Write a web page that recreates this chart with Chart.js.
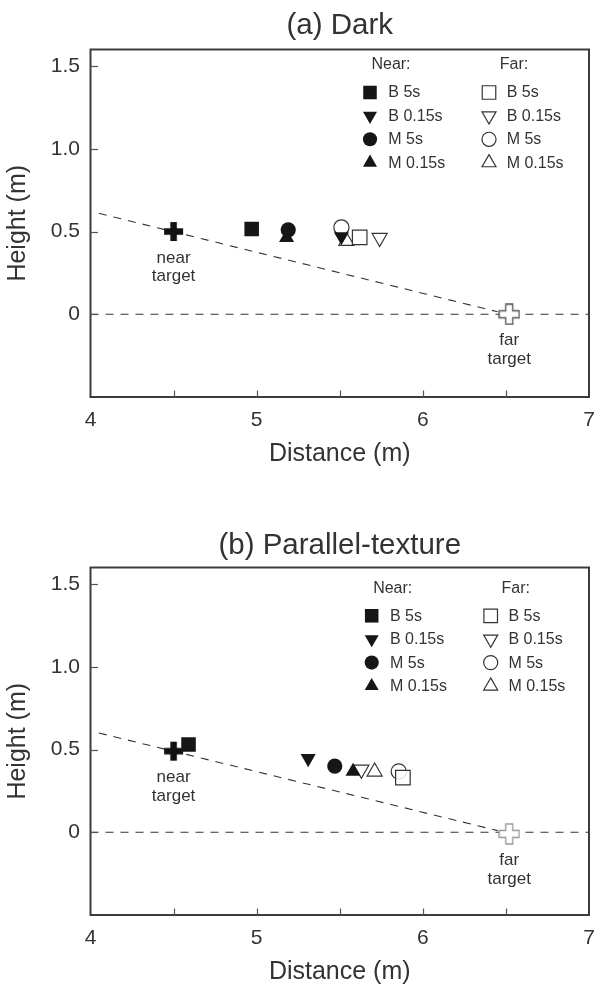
<!DOCTYPE html>
<html><head><meta charset="utf-8">
<script src="https://cdn.jsdelivr.net/npm/chart.js@4/dist/chart.umd.min.js"></script>
<style>
html,body{margin:0;padding:0;background:#fff;}
.wrap{position:absolute;left:0;width:601px;height:479px;}
</style></head><body>
<div class="wrap" style="top:0"><canvas id="c1" width="601" height="479"></canvas></div>
<div class="wrap" style="top:518px"><canvas id="c2" width="601" height="479"></canvas></div>
<script>
// ---------- data ----------
const xTickValues = [4, 4.5, 5, 5.5, 6, 6.5, 7];
const xTickLabels = ['4', '', '5', '', '6', '', '7'];
const yTickValues = [0, 0.5, 1.0, 1.5];
const yTickLabels = ['0', '0.5', '1.0', '1.5'];
const seriesNames = ['B 5s', 'B 0.15s', 'M 5s', 'M 0.15s'];
const groupNames = ['Near:', 'Far:'];
const targetNames = [['near', 'target'], ['far', 'target']];

// Panel (a) Dark  -- order: B 5s, B 0.15s, M 5s, M 0.15s ; each [distance, height]
const darkNear = [[4.97, 0.515], [5.51, 0.47], [5.19, 0.51], [5.18, 0.463]];
const darkFar = [[5.62, 0.465], [5.74, 0.462], [5.51, 0.525], [5.54, 0.443]];
const darkTargets = [[4.50, 0.50], [6.52, 0.0]];
const darkSightLine = [[4.05, 0.61], [6.45, 0.015]];

// Panel (b) Parallel-texture
const texNear = [[4.59, 0.53], [5.31, 0.446], [5.47, 0.40], [5.58, 0.368]];
const texFar = [[5.88, 0.33], [5.63, 0.379], [5.855, 0.367], [5.71, 0.366]];
const texTargets = [[4.50, 0.49], [6.52, -0.01]];
const texSightLine = [[4.05, 0.60], [6.45, 0.01]];

const groundLine = [[4, 0], [7, 0]];

// ---------- styles ----------
const FONT = "'Liberation Sans', Arial, Helvetica, sans-serif";
const TXT = '#333333';
const markerStyles = [
  {pointStyle: 'rect', radius: 10.3, rotation: 0},
  {pointStyle: 'triangle', radius: 8.7, rotation: 180},
  {pointStyle: 'circle', radius: 7.6, rotation: 0},
  {pointStyle: 'triangle', radius: 8.7, rotation: 0}
];

function crossImg(fill, stroke, size, arm) {
  const c = document.createElement('canvas');
  c.width = size + 2; c.height = size + 2;
  const g = c.getContext('2d');
  const o = 1, s = size, a = arm, h = (s - a) / 2;
  g.beginPath();
  g.moveTo(o + h, o); g.lineTo(o + h + a, o); g.lineTo(o + h + a, o + h);
  g.lineTo(o + s, o + h); g.lineTo(o + s, o + h + a); g.lineTo(o + h + a, o + h + a);
  g.lineTo(o + h + a, o + s); g.lineTo(o + h, o + s); g.lineTo(o + h, o + h + a);
  g.lineTo(o, o + h + a); g.lineTo(o, o + h); g.lineTo(o + h, o + h); g.closePath();
  g.fillStyle = fill; g.fill();
  if (stroke) { g.strokeStyle = stroke; g.lineWidth = 1.3; g.stroke(); }
  return c;
}

function pts(arr) { return arr.map(p => ({x: p[0], y: p[1]})); }

function drawMarker(ctx, st, x, y, filled) {
  ctx.save();
  ctx.fillStyle = filled ? '#161616' : '#ffffff';
  ctx.strokeStyle = filled ? '#161616' : '#333333';
  ctx.lineWidth = filled ? 0 : 1.2;
  const opts = {pointStyle: st.pointStyle, radius: st.radius * 0.93, rotation: st.rotation, borderWidth: filled ? 0 : 1.2};
  if (Chart.helpers && Chart.helpers.drawPoint) {
    Chart.helpers.drawPoint(ctx, opts, x, y);
  } else {
    ctx.beginPath(); ctx.arc(x, y, st.radius, 0, Math.PI * 2); ctx.fill(); if (!filled) ctx.stroke();
  }
  ctx.restore();
}

function makePanelPlugin(cfg) {
  return {
    id: 'panel',
    afterDraw(chart) {
      const ctx = chart.ctx;
      const a = chart.chartArea;
      const xs = chart.scales.x, ys = chart.scales.y;
      ctx.save();
      // frame
      ctx.strokeStyle = '#3c3c3c';
      ctx.lineWidth = 2;
      ctx.strokeRect(a.left, a.top, a.right - a.left, a.bottom - a.top);
      // inner tick marks
      ctx.lineWidth = 1.2;
      ctx.strokeStyle = '#555555';
      xTickValues.forEach(v => {
        if (v <= xs.min || v >= xs.max) return;
        const px = Math.round(xs.getPixelForValue(v)) + 0.5;
        ctx.beginPath(); ctx.moveTo(px, a.bottom); ctx.lineTo(px, a.bottom - 6.5); ctx.stroke();
      });
      yTickValues.forEach(v => {
        const py = Math.round(ys.getPixelForValue(v)) + 0.5;
        ctx.beginPath(); ctx.moveTo(a.left, py); ctx.lineTo(a.left + 7.5, py); ctx.stroke();
      });
      // panel title
      ctx.fillStyle = TXT;
      ctx.textAlign = 'center';
      ctx.textBaseline = 'middle';
      ctx.font = '29.5px ' + FONT;
      ctx.fillText(cfg.title, (a.left + a.right) / 2, cfg.titleY);
      // target labels
      ctx.font = '17px ' + FONT;
      cfg.targets.forEach((t, i) => {
        const px = xs.getPixelForValue(t[0]);
        const py = ys.getPixelForValue(t[1]);
        ctx.fillText(targetNames[i][0], px, py + 26.5);
        ctx.fillText(targetNames[i][1], px, py + 45);
      });
      // legend
      const lx = cfg.legendX, ly = cfg.legendY;
      ctx.font = '16px ' + FONT;
      ctx.textAlign = 'center';
      ctx.fillText(groupNames[0], lx + 21, ly);
      ctx.fillText(groupNames[1], lx + 144, ly);
      ctx.textAlign = 'left';
      seriesNames.forEach((name, i) => {
        const ry = ly + 27.5 + i * 23.4;
        drawMarker(ctx, markerStyles[i], lx, ry, true);
        drawMarker(ctx, markerStyles[i], lx + 119, ry, false);
        ctx.fillStyle = TXT;
        ctx.fillText(name, lx + 18.3, ry + 0.5);
        ctx.fillText(name, lx + 136.7, ry + 0.5);
      });
      ctx.restore();
    }
  };
}

function buildChart(id, near, far, targets, sight, cfg) {
  const datasets = [];
  near.forEach((p, i) => datasets.push({
    label: 'Near ' + seriesNames[i], data: pts([p]),
    pointStyle: markerStyles[i].pointStyle, pointRadius: markerStyles[i].radius,
    pointRotation: markerStyles[i].rotation,
    backgroundColor: '#161616', borderColor: '#161616', pointBorderWidth: 0
  }));
  far.forEach((p, i) => datasets.push({
    label: 'Far ' + seriesNames[i], data: pts([p]),
    pointStyle: markerStyles[i].pointStyle, pointRadius: markerStyles[i].radius,
    pointRotation: markerStyles[i].rotation,
    backgroundColor: 'rgba(255,255,255,0.85)', borderColor: '#333333', pointBorderWidth: 1.2
  }));
  datasets.push({label: 'near target', data: pts([targets[0]]),
    pointStyle: crossImg('#111111', null, 19, 6.5), pointRadius: 10});
  datasets.push({label: 'far target', data: pts([targets[1]]),
    pointStyle: crossImg('#ffffff', cfg.farCross, 20, 7), pointRadius: 10});
  datasets.push({label: 'sight line', data: pts(sight), showLine: true, pointRadius: 0,
    borderColor: '#333333', borderWidth: 1.1, borderDash: [8, 7]});
  datasets.push({label: 'ground', data: pts(groundLine), showLine: true, pointRadius: 0,
    borderColor: '#333333', borderWidth: 1.1, borderDash: [8, 7]});

  return new Chart(document.getElementById(id), {
    type: 'scatter',
    data: {datasets},
    options: {
      responsive: false, animation: false, events: [],
      layout: {padding: {top: 49.5, right: 12, left: 0, bottom: 0}},
      plugins: {legend: {display: false}, tooltip: {enabled: false}},
      scales: {
        x: {
          type: 'linear', min: 4, max: 7,
          afterFit: s => { s.height = 82; s.paddingLeft = 0; s.paddingRight = 0; },
          afterBuildTicks: s => { s.ticks = xTickValues.map(v => ({value: v})); },
          grid: {display: false, drawTicks: false},
          border: {display: false},
          ticks: {
            padding: 11, color: TXT, font: {family: FONT, size: 21},
            maxRotation: 0, autoSkip: false,
            callback: (v) => { const k = xTickValues.indexOf(v); return k >= 0 ? xTickLabels[k] : ''; }
          },
          title: {display: true, text: 'Distance (m)', color: TXT,
            font: {family: FONT, size: 25}, padding: {top: 0, bottom: 10}}
        },
        y: {
          type: 'linear', min: -0.5, max: 1.6,
          afterFit: s => { s.width = 90.5; s.paddingTop = 0; s.paddingBottom = 0; },
          afterBuildTicks: s => { s.ticks = yTickValues.map(v => ({value: v})); },
          grid: {display: false, drawTicks: false},
          border: {display: false},
          ticks: {
            padding: 10.5, color: TXT, font: {family: FONT, size: 21},
            callback: (v) => { const k = yTickValues.indexOf(v); return k >= 0 ? yTickLabels[k] : ''; }
          },
          title: {display: true, text: 'Height (m)', color: TXT,
            font: {family: FONT, size: 25}, padding: {top: 3, bottom: 0}}
        }
      }
    },
    plugins: [makePanelPlugin(cfg)]
  });
}

buildChart('c1', darkNear, darkFar, darkTargets, darkSightLine,
  {title: '(a) Dark', titleY: 26, legendX: 370, legendY: 65, targets: darkTargets, farCross: '#555555'});
buildChart('c2', texNear, texFar, texTargets, texSightLine,
  {title: '(b) Parallel-texture', titleY: 28, legendX: 371.7, legendY: 70.3, targets: texTargets, farCross: '#999999'});
</script>
</body></html>
